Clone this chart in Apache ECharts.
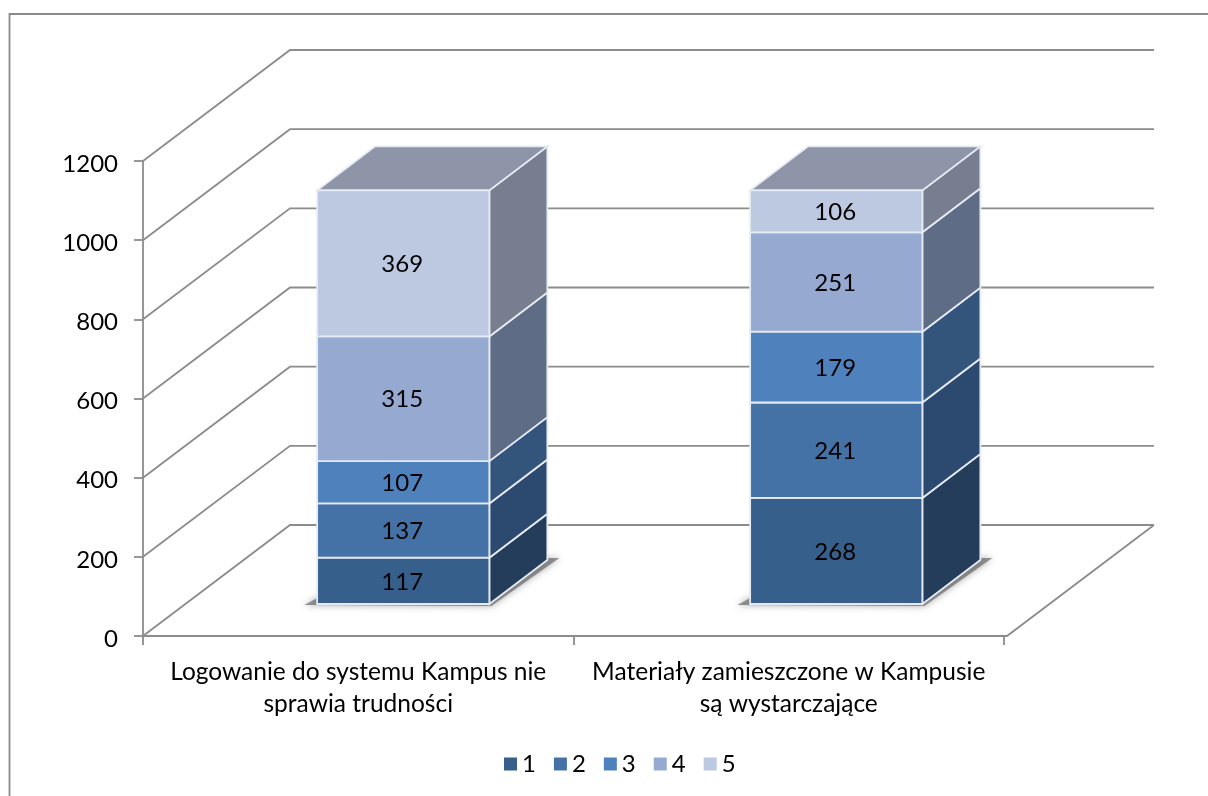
<!DOCTYPE html>
<html>
<head>
<meta charset="utf-8">
<style>
html, body { margin: 0; padding: 0; background: #fff; }
#chart { width: 1208px; height: 796px; }
</style>
<script src="https://cdn.jsdelivr.net/npm/echarts@6/dist/echarts.min.js"></script>
</head>
<body>
<div id="chart"></div>
<script>
const categories = [
    'Logowanie do systemu Kampus nie\nsprawia trudności',
    'Materiały zamieszczone w Kampusie\nsą wystarczające'
]
const seriesNames = ['1', '2', '3', '4', '5']
const values1 = [117, 268]
const values2 = [137, 241]
const values3 = [107, 179]
const values4 = [315, 251]
const values5 = [369, 106]
const ticks = [0, 200, 400, 600, 800, 1000, 1200]

const frontColors = ['#375F8C', '#4472A6', '#4F81BD', '#95A9D1', '#BCC9E1']
const sideColors = ['#243D5A', '#2C4A6F', '#33547B', '#5E6C85', '#777E8F']
const topColor = '#8E95A9'
const lineColor = '#8C8C8C'
const fontName = 'Lato'

// pseudo 3d offsets, pixels
const wallDepth = [147, -111]
const barDepth = [58, -44]
const barShift = [45, 47.5]
const barLift = -32

const chart = echarts.init(document.getElementById('chart'))

function renderWall(params, api) {
    const left = params.coordSys.x
    const right = left + params.coordSys.width
    const y = api.coord([0, api.value(0)])[1]
    const children = [{
        type: 'polyline',
        shape: {
            points: [
                [left, y],
                [left + wallDepth[0], y + wallDepth[1]],
                [right + 3 + wallDepth[0], y + wallDepth[1]]
            ]
        },
        style: { fill: null, stroke: lineColor, lineWidth: 1.8 }
    }]
    if (api.value(0) === 0) {
        children.push({
            type: 'polyline',
            shape: {
                points: [
                    [left, y],
                    [right + 3, y],
                    [right + 3 + wallDepth[0], y + wallDepth[1]]
                ]
            },
            style: { fill: null, stroke: lineColor, lineWidth: 1.8 }
        })
    }
    return { type: 'group', children }
}

function barFront(api, idx, v) {
    const p = api.coord([idx, v])
    return [p[0] + barShift[idx], p[1] + barLift]
}

function renderShadow(params, api) {
    const idx = api.value(0)
    const w = api.size([1, 0])[0] * 0.4
    const p = barFront(api, idx, 0)
    const l = p[0] - w / 2
    const r = p[0] + w / 2
    return {
        type: 'polygon',
        shape: {
            points: [
                [l - 13, p[1] + 1],
                [r + 2, p[1] + 2],
                [r + barDepth[0] + 12, p[1] + barDepth[1] - 2],
                [r + barDepth[0] - 20, p[1] + barDepth[1] - 2],
                [l + 4, p[1] - 8]
            ]
        },
        style: {
            fill: 'rgba(105,105,105,0.7)',
            shadowBlur: 7,
            shadowColor: 'rgba(105,105,105,0.8)'
        }
    }
}

function renderSegment(seriesIndex) {
    return function (params, api) {
        const idx = api.value(0)
        const start = api.value(1)
        const end = api.value(2)
        const w = api.size([1, 0])[0] * 0.4
        const a = barFront(api, idx, start)
        const b = barFront(api, idx, end)
        const l = a[0] - w / 2
        const r = a[0] + w / 2
        const edge = { stroke: '#E6EBF3', lineWidth: 1.8 }
        const children = [{
            type: 'polygon',
            shape: {
                points: [
                    [r, a[1]],
                    [r + barDepth[0], a[1] + barDepth[1]],
                    [r + barDepth[0], b[1] + barDepth[1]],
                    [r, b[1]]
                ]
            },
            style: { fill: sideColors[seriesIndex], ...edge }
        }]
        if (seriesIndex === seriesNames.length - 1) {
            children.push({
                type: 'polygon',
                shape: {
                    points: [
                        [l, b[1]],
                        [r, b[1]],
                        [r + barDepth[0], b[1] + barDepth[1]],
                        [l + barDepth[0], b[1] + barDepth[1]]
                    ]
                },
                style: { fill: topColor, ...edge }
            })
        }
        children.push({
            type: 'rect',
            shape: { x: l, y: b[1], width: w, height: a[1] - b[1] },
            style: { fill: frontColors[seriesIndex], ...edge }
        })
        children.push({
            type: 'text',
            style: {
                text: String(end - start),
                x: a[0] - 1,
                y: (a[1] + b[1]) / 2 + 1,
                align: 'center',
                verticalAlign: 'middle',
                fontFamily: fontName,
                fontSize: 24,
                fill: '#000'
            }
        })
        return { type: 'group', children }
    }
}

const allValues = [values1, values2, values3, values4, values5]
const running = categories.map(() => 0)
const barSeries = allValues.map((vals, s) => {
    const rows = vals.map((v, i) => {
        const row = [i, running[i], running[i] + v]
        running[i] += v
        return row
    })
    return {
        name: seriesNames[s],
        type: 'custom',
        renderItem: renderSegment(s),
        itemStyle: { color: frontColors[s] },
        encode: { x: 0, y: [1, 2] },
        data: rows,
        z: 3
    }
})

chart.setOption({
    animation: false,
    backgroundColor: '#fff',
    graphic: [{
        type: 'rect',
        shape: { x: 9.5, y: 14, width: 1300, height: 900 },
        style: { fill: null, stroke: '#8A8A8A', lineWidth: 1.8 },
        silent: true,
        z: 0
    }],
    legend: {
        data: seriesNames,
        left: 499,
        top: 747,
        icon: 'rect',
        itemWidth: 13,
        itemHeight: 13,
        itemGap: 18,
        textStyle: { fontFamily: fontName, fontSize: 24, color: '#000' }
    },
    grid: { left: 143, right: 204, top: 161, bottom: 160 },
    xAxis: {
        type: 'category',
        data: categories,
        boundaryGap: true,
        axisLine: { lineStyle: { color: lineColor, width: 1.8 } },
        axisTick: { show: true, length: 9, lineStyle: { color: lineColor, width: 1.8 } },
        axisLabel: {
            interval: 0,
            margin: 20,
            fontFamily: fontName,
            fontSize: 24.5,
            lineHeight: 32,
            color: '#000'
        }
    },
    yAxis: {
        type: 'value',
        min: 0,
        max: 1200,
        interval: 200,
        splitLine: { show: false },
        axisLine: { show: true, lineStyle: { color: lineColor, width: 1.8 } },
        axisTick: { show: true, length: 9, lineStyle: { color: lineColor, width: 1.8 } },
        axisLabel: {
            margin: 25,
            verticalAlign: 'top',
            lineHeight: 6,
            formatter: v => String(v),
            fontFamily: fontName,
            fontSize: 24,
            color: '#000'
        }
    },
    series: [
        {
            name: 'walls',
            type: 'custom',
            renderItem: renderWall,
            encode: { y: 0 },
            data: ticks.map(t => [t]),
            silent: true,
            z: 1
        },
        {
            name: 'shadow',
            type: 'custom',
            renderItem: renderShadow,
            encode: { x: 0 },
            data: categories.map((c, i) => [i]),
            silent: true,
            z: 2
        },
        ...barSeries
    ]
})
</script>
</body>
</html>
